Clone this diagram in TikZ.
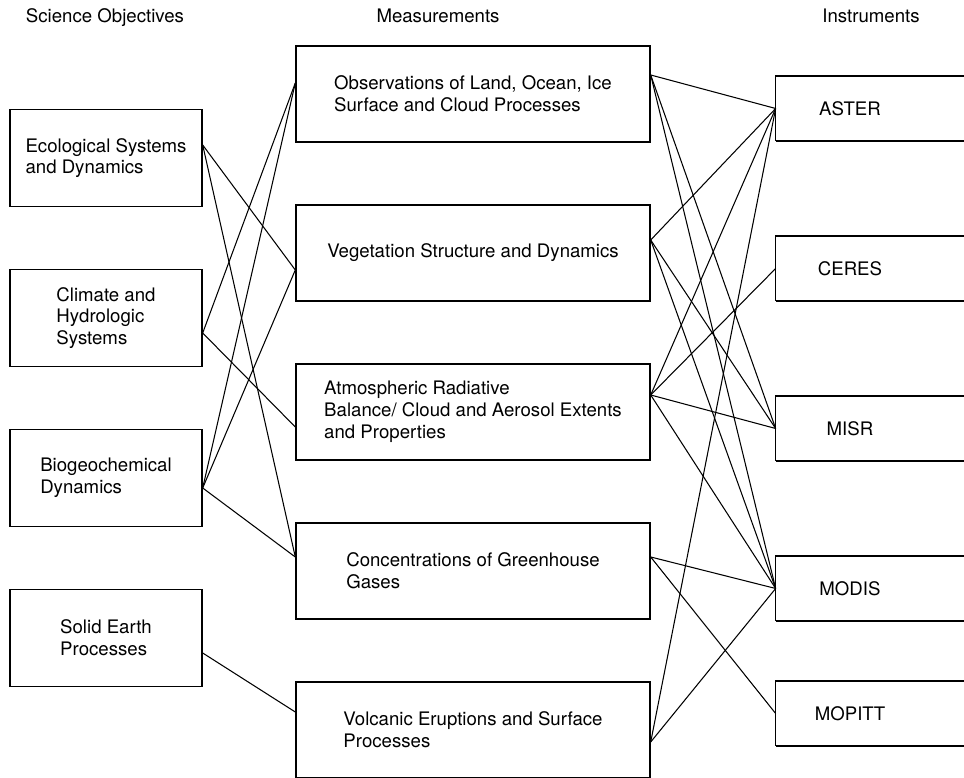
\documentclass[tikz,border=0pt]{standalone}
\usepackage{fontspec}
\setmainfont{TeX Gyre Heros}
\usetikzlibrary{positioning}

\begin{document}
\begin{tikzpicture}[node distance=3.2cm,on grid,
   font=\fontsize{10.6}{12.4}\selectfont,
   objective/.style={draw,line width=0.8pt,minimum width=3.84cm,minimum height=1.94cm,align=left},
   measure/.style={draw,line width=0.8pt,minimum width=7.08cm,minimum height=1.92cm,align=left},
   instrument/.style={minimum width=2.96cm,minimum height=1.28cm},
   link/.style={line width=0.6pt}]
   \useasboundingbox (0,0) rectangle (19.28,15.56);

   % column headers
   \node[anchor=base] (h_obj)  at (2.10,15.1)  {Science Objectives};
   \node[anchor=base] (h_meas) at (8.76,15.1)  {Measurements};
   \node[anchor=base] (h_inst) at (17.42,15.1) {Instruments};

   % science objectives
   \node[objective] (eco)   at (2.12,12.40) {Ecological Systems\\and Dynamics};
   \node[objective] (clim)  [below=of eco]  {Climate and\\Hydrologic\\Systems};
   \node[objective] (bio)   [below=of clim] {Biogeochemical\\Dynamics};
   \node[objective] (solid) [below=of bio]  {Solid Earth\\Processes};

   % measurements
   \node[measure] (obs)  at (9.46,13.68) {Observations of Land, Ocean, Ice\\Surface and Cloud Processes};
   \node[measure] (veg)  [below=3.18cm of obs] {Vegetation Structure and Dynamics};
   \node[measure] (atm)  [below=3.18cm of veg] {Atmospheric Radiative\\Balance/ Cloud and Aerosol Extents\\and Properties};
   \node[measure] (conc) [below=3.18cm of atm] {Concentrations of Greenhouse\\Gases};
   \node[measure] (volc) [below=3.18cm of conc] {Volcanic Eruptions and Surface\\Processes};

   % instruments (boxes run off the right edge)
   \node[instrument] (aster)  at (17.0,13.39) {ASTER};
   \node[instrument] (ceres)  [below=of aster]  {CERES};
   \node[instrument] (misr)   [below=of ceres]  {MISR};
   \node[instrument] (modis)  [below=of misr]   {MODIS};
   \node[instrument] (mopitt) [below=2.5cm of modis] {MOPITT};
   \foreach \n in {aster,ceres,misr,modis,mopitt}
      \draw[line width=0.8pt] (\n.south west) -- (\n.north west) -- ++(4.5,0)
                              (\n.south west) -- ++(4.5,0);

   % ports
   \coordinate (eco_out)   at ([yshift=2.6mm]eco.east);
   \coordinate (clim_out)  at ([yshift=-3.0mm]clim.east);
   \coordinate (bio_out)   at ([yshift=-2.0mm]bio.east);
   \coordinate (solid_out) at ([yshift=-3.0mm]solid.east);
   \coordinate (obs_in)    at ([yshift=2.2mm]obs.west);
   \coordinate (obs_out)   at ([yshift=3.8mm]obs.east);
   \coordinate (veg_in)    at ([yshift=-3.4mm]veg.west);
   \coordinate (veg_out)   at ([yshift=2.6mm]veg.east);
   \coordinate (atm_in)    at ([yshift=-3.0mm]atm.west);
   \coordinate (atm_out)   at ([yshift=3.4mm]atm.east);
   \coordinate (conc_in)   at ([yshift=2.8mm]conc.west);
   \coordinate (conc_out)  at ([yshift=2.8mm]conc.east);
   \coordinate (volc_in)   at ([yshift=3.6mm]volc.west);
   \coordinate (volc_out)  at ([yshift=-2.4mm]volc.east);

   \path[link]
   (eco_out)   edge (veg_in)
               edge (conc_in)
   (clim_out)  edge (obs_in)
               edge (atm_in)
   (bio_out)   edge (obs_in)
               edge (veg_in)
               edge (conc_in)
   (solid_out) edge (volc_in)

   (obs_out)   edge (aster.west)
               edge (misr.west)
               edge (modis.west)
   (veg_out)   edge (aster.west)
               edge (misr.west)
               edge (modis.west)
   (atm_out)   edge (aster.west)
               edge (ceres.west)
               edge (misr.west)
               edge (modis.west)
   (conc_out)  edge (modis.west)
               edge (mopitt.west)
   (volc_out)  edge (aster.west)
               edge (modis.west);
\end{tikzpicture}
\end{document}
